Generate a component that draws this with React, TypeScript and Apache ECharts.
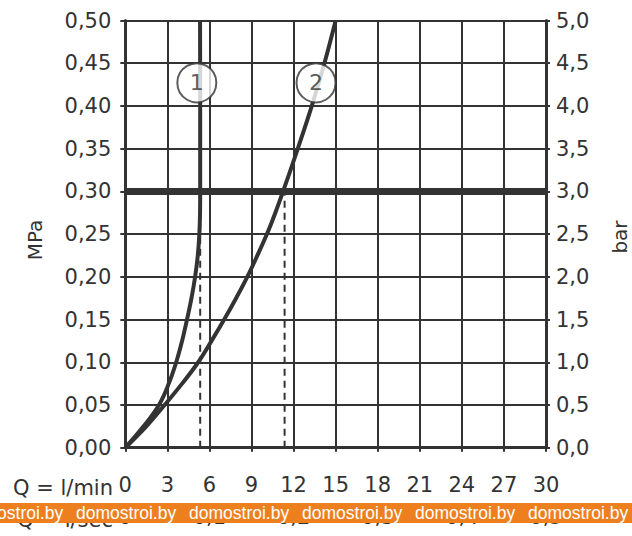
import React, { useEffect, useRef } from "react";
import * as echarts from "echarts";

// Flow rate axis (l/min) and pressure axes
const flowMin = 0;
const flowMax = 30;
const flowStep = 3;
const flowSecMax = 0.5;
const flowSecStep = 0.1;
const mpaMax = 0.5;
const mpaStep = 0.05;
const barMax = 5;
const barStep = 0.5;

// Curve 1 (Q l/min, P MPa)
const curve1Q = [0, 1.3, 2.4, 3.1, 3.63, 4.05, 4.4, 4.72, 4.98, 5.17, 5.28, 5.33, 5.34, 5.34, 5.33];
const curve1P = [0, 0.025, 0.05, 0.075, 0.1, 0.125, 0.15, 0.175, 0.2, 0.225, 0.25, 0.275, 0.3, 0.4, 0.5];

// Curve 2
const curve2Q = [0, 1.5, 2.8, 4.05, 5.2, 6.15, 7.05, 7.9, 8.7, 9.42, 10.1, 10.7, 11.25, 12.3, 13.3, 14.2, 15.0];
const curve2P = [0, 0.025, 0.05, 0.075, 0.1, 0.125, 0.15, 0.175, 0.2, 0.225, 0.25, 0.275, 0.3, 0.35, 0.4, 0.45, 0.5];

// Reference pressure line and the flow readings at it
const refPressure = 0.3;
const dashQ = [5.34, 11.36];

// Curve labels
const circleLabels = ["1", "2"];
const circleQ = [5.1, 13.6];
const circleP = [0.427, 0.427];

const watermark = "domostroi.by";

const FONT = "DejaVu Sans";
const INK = "#333333";

export default function App() {
  const ref = useRef<HTMLDivElement>(null);

  useEffect(() => {
    if (!ref.current) return;
    const chart = echarts.init(ref.current, undefined, { renderer: "svg" });

    const comma = (v: number, d: number) => v.toFixed(d).replace(".", ",");

    const labelStyle = { color: INK, fontSize: 21, fontFamily: FONT, fontWeight: "normal" as any };

    const wmTexts: any[] = [];
    for (let i = 0; i < 7; i++) {
      wmTexts.push({
        type: "text",
        x: -37 + i * 113,
        y: 513,
        z: 101,
        style: {
          text: watermark,
          fill: "#ffffff",
          fontSize: 17.5,
          fontFamily: "Liberation Sans",
          align: "left",
          verticalAlign: "middle",
        },
      });
    }

    chart.setOption({
      animation: false,
      backgroundColor: "#ffffff",
      grid: { left: 125.3, right: 86, top: 20.5, height: 427.2, containLabel: false },
      xAxis: [
        {
          type: "value",
          min: flowMin,
          max: flowMax,
          interval: flowStep,
          position: "bottom",
          axisLine: { show: true, onZero: false, lineStyle: { color: INK, width: 3 } },
          axisTick: { show: true, inside: false, length: 4, lineStyle: { color: INK, width: 2 } },
          splitLine: { show: true, lineStyle: { color: INK, width: 2 } },
          axisLabel: { ...labelStyle, margin: 27, formatter: (v: number) => String(v) },
        },
        {
          type: "value",
          min: flowMin,
          max: flowSecMax,
          interval: flowSecStep,
          position: "bottom",
          offset: 32,
          axisLine: { show: false },
          axisTick: { show: false },
          splitLine: { show: false },
          axisLabel: {
            ...labelStyle,
            margin: 27,
            formatter: (v: number) => (v === 0 ? "0" : comma(v, 1)),
          },
        },
      ],
      yAxis: [
        {
          type: "value",
          min: 0,
          max: mpaMax,
          interval: mpaStep,
          position: "left",
          axisLine: { show: true, onZero: false, lineStyle: { color: INK, width: 3 } },
          axisTick: { show: true, inside: false, length: 5, lineStyle: { color: INK, width: 2 } },
          splitLine: { show: true, lineStyle: { color: INK, width: 2 } },
          axisLabel: { ...labelStyle, margin: 14, formatter: (v: number) => comma(v, 2) },
        },
        {
          type: "value",
          min: 0,
          max: barMax,
          interval: barStep,
          position: "right",
          axisLine: { show: true, onZero: false, lineStyle: { color: INK, width: 3 } },
          axisTick: { show: true, inside: false, length: 4, lineStyle: { color: INK, width: 2 } },
          splitLine: { show: false },
          axisLabel: { ...labelStyle, margin: 10, formatter: (v: number) => comma(v, 1) },
        },
      ],
      series: [
        {
          type: "line",
          name: "1",
          xAxisIndex: 0,
          yAxisIndex: 0,
          data: curve1Q.map((q, i) => [q, curve1P[i]]),
          showSymbol: false,
          smooth: 0.4,
          lineStyle: { color: INK, width: 4 },
          z: 4,
          markLine: {
            silent: true,
            symbol: ["none", "none"],
            label: { show: false },
            lineStyle: { color: INK, width: 7, type: "solid" },
            data: [{ yAxis: refPressure }],
            z: 3,
          },
        },
        {
          type: "line",
          name: "2",
          xAxisIndex: 0,
          yAxisIndex: 0,
          data: curve2Q.map((q, i) => [q, curve2P[i]]),
          showSymbol: false,
          smooth: 0.4,
          lineStyle: { color: INK, width: 4 },
          z: 4,
        },
        ...dashQ.map((q) => ({
          type: "line",
          xAxisIndex: 0,
          yAxisIndex: 0,
          data: [
            [q, 0],
            [q, refPressure],
          ],
          showSymbol: false,
          lineStyle: { color: INK, width: 2, type: [7, 5] },
          z: 2,
        })),
        {
          type: "scatter",
          xAxisIndex: 0,
          yAxisIndex: 0,
          data: circleLabels.map((l, i) => [circleQ[i], circleP[i], l]),
          symbol: "circle",
          symbolSize: 39,
          itemStyle: { color: "#ffffff", borderColor: INK, borderWidth: 2 },
          label: {
            show: true,
            position: "inside",
            formatter: (p: any) => p.value[2],
            color: INK,
            fontSize: 22,
            fontFamily: FONT,
          },
          z: 10,
        },
      ],
      graphic: [
        {
          type: "text",
          x: 35,
          y: 240,
          rotation: Math.PI / 2,
          style: { text: "MPa", fill: INK, fontSize: 20, fontFamily: FONT, align: "center", verticalAlign: "middle" },
        },
        {
          type: "text",
          x: 620,
          y: 237,
          rotation: Math.PI / 2,
          style: { text: "bar", fill: INK, fontSize: 20, fontFamily: FONT, align: "center", verticalAlign: "middle" },
        },
        {
          type: "text",
          x: 113,
          y: 488,
          style: { text: "Q = l/min", fill: INK, fontSize: 21, fontFamily: FONT, align: "right", verticalAlign: "middle" },
        },
        {
          type: "text",
          x: 113,
          y: 520,
          style: { text: "Q = l/sec", fill: INK, fontSize: 21, fontFamily: FONT, align: "right", verticalAlign: "middle" },
        },
        {
          type: "rect",
          z: 100,
          shape: { x: 0, y: 503, width: 632, height: 20 },
          style: { fill: "#EE7F1F" },
        },
        ...wmTexts,
      ],
    });

    return () => chart.dispose();
  }, []);

  return <div ref={ref} style={{ position: "absolute", left: 0, top: 0, width: 632, height: 536 }} />;
}
